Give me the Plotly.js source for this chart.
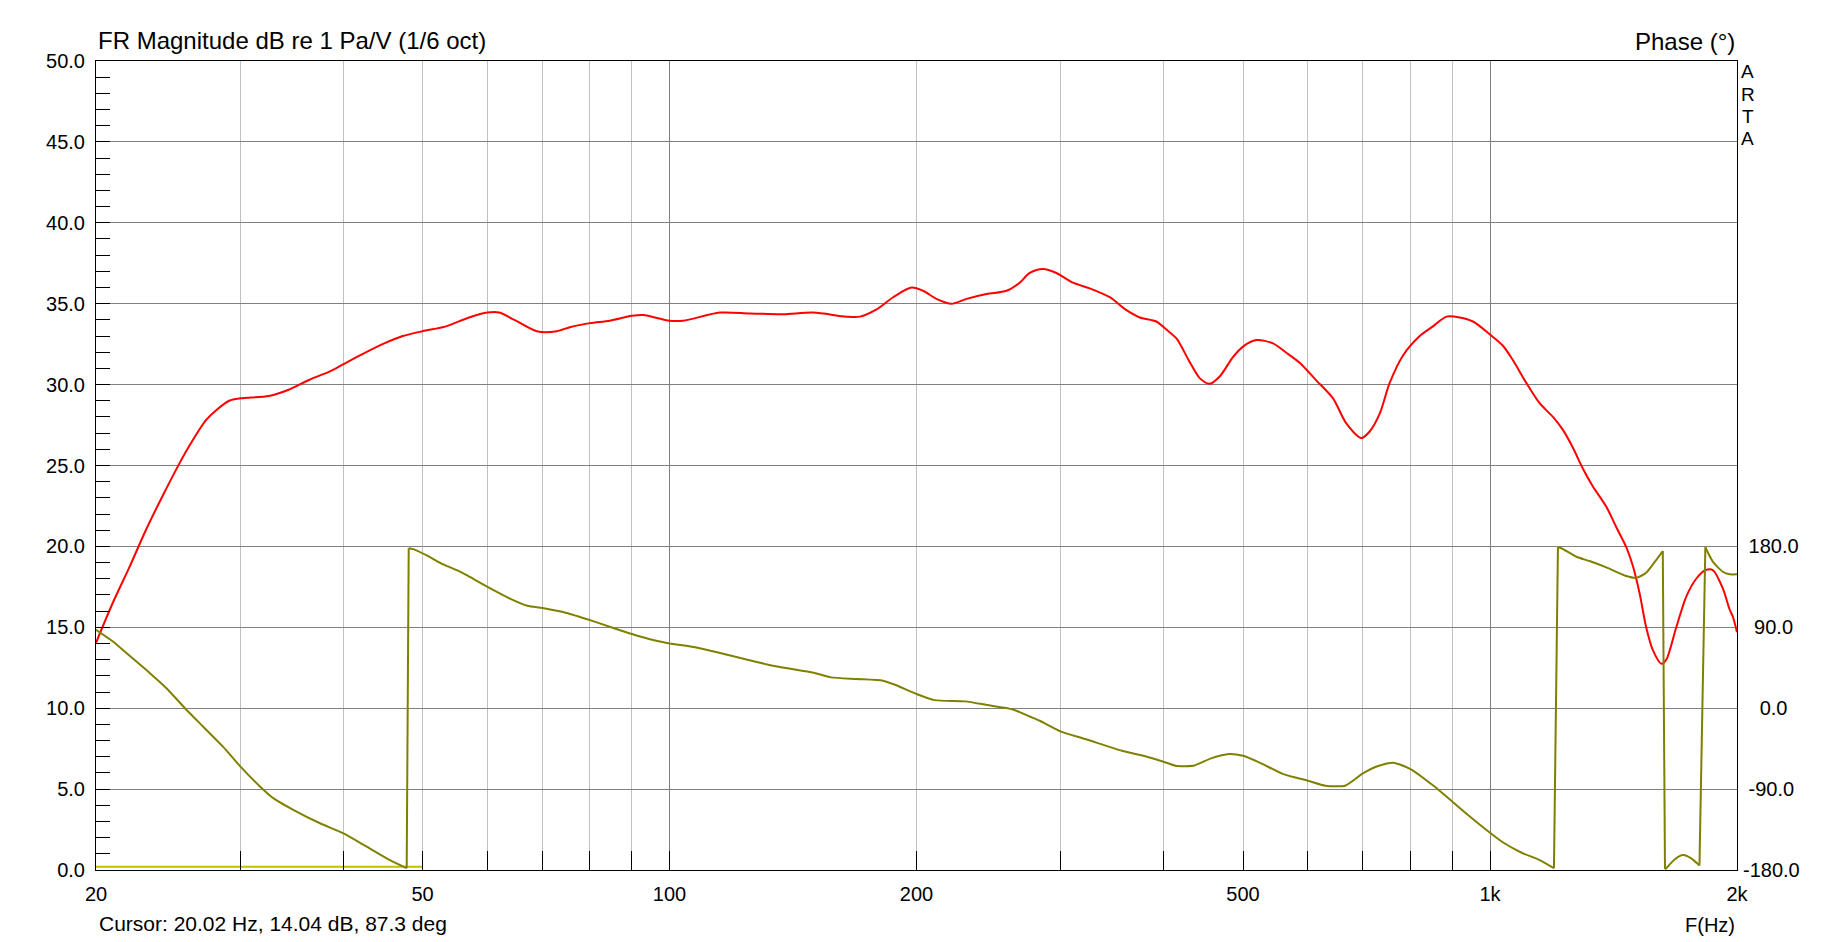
<!DOCTYPE html>
<html>
<head>
<meta charset="utf-8">
<script src="https://cdn.plot.ly/plotly-3.0.1.min.js"></script>
<style>
  html, body { margin: 0; padding: 0; background: #ffffff; }
  #chart { width: 1833px; height: 942px; }
</style>
</head>
<body>
<div id="chart"></div>
<script>
// ---- Magnitude (dB re 1 Pa/V, 1/6 oct) ----
const magFreqHz = [20.0, 20.96, 21.96, 23.0, 24.1, 25.26, 25.98, 27.23, 28.0, 29.07, 30.0, 32.5, 34.4, 36.4, 38.5, 40.0,
  42.3, 44.7, 47.3, 50.0, 53.4, 57.0, 60.0, 62.0, 64.7, 68.9, 72.9, 75.6, 80.0, 84.6, 90.0, 92.9, 100, 103.9,
  115.2, 125.3, 137.6, 149.6, 164.3, 170.6, 178.8, 187.3, 197.2, 203.7, 211.5, 220.6, 230.2, 243.4, 257.5,
  267.2, 274.8, 285.3, 296.2, 310.3, 325.2, 344, 360.5, 374.2, 392, 403.3, 414.8, 430.5, 442.8, 455.4, 468.3,
  486.1, 500, 519, 543.9, 564.7, 586.2, 614.4, 643.7, 668.2, 697, 713.4, 733.8, 754.6, 783.4, 821, 852,
  884.9, 918.4, 953.3, 1000, 1037, 1066.6, 1107.4, 1149.4, 1193.2, 1227, 1262, 1298, 1334.8, 1386, 1425,
  1465.8, 1493, 1521.6, 1550, 1579, 1617, 1640, 1686.6, 1734.6, 1783.8, 1825.8, 1868.8, 1922, 1959, 1977, 2000];
const magDb = [14.04, 16.5, 18.7, 21.0, 23.1, 25.1, 26.2, 27.8, 28.4, 29.0, 29.15, 29.3, 29.7, 30.3, 30.8, 31.25,
  31.9, 32.5, 33.0, 33.3, 33.6, 34.15, 34.45, 34.45, 34.0, 33.3, 33.3, 33.55, 33.8, 33.95, 34.25, 34.3, 33.95, 33.95,
  34.45, 34.4, 34.35, 34.45, 34.2, 34.2, 34.65, 35.4, 36.0, 35.8, 35.3, 35.0, 35.3, 35.6, 35.8,
  36.3, 36.9, 37.15, 36.9, 36.3, 35.95, 35.4, 34.6, 34.15, 33.9, 33.4, 32.85, 31.4, 30.4, 30.05, 30.5,
  31.7, 32.35, 32.75, 32.55, 31.97, 31.35, 30.25, 29.15, 27.6, 26.7, 27.1, 28.2, 30.1, 31.8, 33.0, 33.6,
  34.2, 34.15, 33.9, 33.1, 32.4, 31.5, 30.1, 28.85, 28.0, 27.2, 26.1, 24.8, 23.7, 22.45, 21.2,
  19.95, 18.8, 17.1, 15.0, 13.6, 12.75, 13.0, 15.0, 16.9, 18.0, 18.5, 18.54, 17.4, 16.1, 15.65, 14.7];

// ---- Phase (degrees) ----
const phaseFreqHz = [20.0, 20.99, 22.0, 23.27, 24.39, 25.67, 27.02, 28.58, 30.0, 31.68, 32.89, 34.79, 37.5, 40.0,
  42.75, 45.64, 47.83, 48.1, 48.72, 50.59, 53.0, 55.54, 56.6, 60, 63.9, 67.1, 70, 74.9, 80, 85.6, 90, 94.4,
  100, 106.5, 114.6, 124.8, 135.9, 149.8, 157.3, 169.1, 182, 188.7, 200, 210.5, 229.3, 243.7, 262.1, 275.2,
  282.7, 300, 321.9, 355.9, 381.7, 400, 413.6, 434.9, 457.2, 480.7, 500, 526.1, 558.7, 600, 630.1, 665.9,
  700, 732.3, 762.3, 800, 851.2, 900, 940.9, 1000, 1040, 1093, 1149.4, 1196.6, 1210, 1221.6, 1274, 1322,
  1386, 1465.8, 1507.6, 1550, 1594, 1624, 1634, 1640, 1680, 1718, 1759, 1792, 1800, 1830, 1868.8, 1922, 1959, 2000];
const phaseDeg = [87.3, 74, 58, 39, 22, 0, -20.6, -43, -65, -87, -100, -113, -128, -139,
  -154, -169, -178, 178, 177, 170, 160, 152, 148, 135, 122, 114, 111.4, 106, 98, 89, 82.5, 77,
  72, 68.4, 62, 53.6, 46, 39.5, 34.3, 32.5, 30.6, 25.8, 15.8, 9, 7.6, 3.5, -1.4, -9.5,
  -14, -26, -34.6, -47.4, -54, -59.5, -64, -64, -55.8, -51, -53, -61.3, -73, -80.7, -86.2, -86.2,
  -72.4, -64, -60.7, -67.7, -85.5, -104, -119, -138.5, -150, -160.8, -169, -178, 179, 178, 168.5, 163.7,
  156.7, 147, 145, 150.7, 164.8, 174.8, -179, -178, -168, -163.3, -167, -173.3, -175, 179, 163, 151.8, 149, 149];

// ---- Low-frequency marker band (yellow line near the floor) ----
const bandHz = [20, 50];
const bandDb = [0.2, 0.2];

// ---- Axis ticks ----
const xTickHz = [20, 50, 100, 200, 500, 1000, 2000];
const xTickText = ['20', '50', '100', '200', '500', '1k', '2k'];
const xMinorHz = [30, 40, 60, 70, 80, 90, 300, 400, 600, 700, 800, 900];
const xDecadeHz = [100, 1000];
const yTickDb = [0, 5, 10, 15, 20, 25, 30, 35, 40, 45, 50];
const phaseTickDeg = [-180, -90, 0, 90, 180];
const phaseTickText = ['-180.0', '-90.0', '0.0', '90.0', '180.0'];

const FONT = '"Liberation Sans", Arial, Helvetica, sans-serif';
const NB = '\u00a0';
// centre the right-hand labels under each other, as ARTA does
const emW = {'-': 0.333, '.': 0.278};
const em = s => s.split('').reduce((a, c) => a + (emW[c] !== undefined ? emW[c] : 0.556), 0);
const maxEm = Math.max(...phaseTickText.map(em));
const phaseTickCentered = phaseTickText.map(t => NB.repeat(Math.round((maxEm - em(t)) / 2 / 0.278)) + t);

// split the wrapped phase into smooth pieces plus the vertical wrap connectors
const phaseSegX = [], phaseSegY = [], wrapX = [], wrapY = [];
for (let i = 0; i < phaseFreqHz.length; i++) {
  phaseSegX.push(phaseFreqHz[i]); phaseSegY.push(phaseDeg[i]);
  if (i + 1 < phaseFreqHz.length && Math.abs(phaseDeg[i + 1] - phaseDeg[i]) > 180) {
    phaseSegX.push(null); phaseSegY.push(null);
    wrapX.push(phaseFreqHz[i], phaseFreqHz[i + 1], null);
    wrapY.push(phaseDeg[i], phaseDeg[i + 1], null);
  }
}

const xr = [Math.log10(20), Math.log10(2000)];

const traces = [
  {
    x: bandHz, y: bandDb, type: 'scatter', mode: 'lines',
    line: {color: '#c4c000', width: 2.2}, hoverinfo: 'skip', showlegend: false,
    xaxis: 'x', yaxis: 'y'
  },
  {
    x: magFreqHz, y: magDb, type: 'scatter', mode: 'lines', name: 'Magnitude',
    line: {color: '#ff0000', width: 2, shape: 'spline', smoothing: 0.8},
    showlegend: false, xaxis: 'x', yaxis: 'y'
  },
  {
    x: phaseSegX, y: phaseSegY, type: 'scatter', mode: 'lines', name: 'Phase',
    line: {color: '#808000', width: 2, shape: 'spline', smoothing: 0.6},
    connectgaps: false, showlegend: false, xaxis: 'x2', yaxis: 'y2'
  },
  {
    x: wrapX, y: wrapY, type: 'scatter', mode: 'lines', name: 'Phase wrap',
    line: {color: '#808000', width: 2},
    connectgaps: false, showlegend: false, hoverinfo: 'skip', xaxis: 'x2', yaxis: 'y2'
  }
];

const layout = {
  width: 1833, height: 942,
  margin: {l: 96, r: 96, t: 61, b: 72, pad: 0},
  paper_bgcolor: '#ffffff', plot_bgcolor: '#ffffff',
  font: {family: FONT, size: 20, color: '#000000'},
  showlegend: false,
  title: {
    text: 'FR Magnitude dB re 1 Pa/V (1/6 oct)',
    xref: 'container', yref: 'container',
    x: 98 / 1833, xanchor: 'left',
    y: 1 - 41 / 942, yanchor: 'middle',
    font: {family: FONT, size: 24, color: '#000000'}
  },
  xaxis: {
    type: 'log', range: xr, fixedrange: true,
    tickvals: xTickHz, ticktext: xTickText,
    ticks: 'inside', ticklen: 19, tickwidth: 1, tickcolor: '#000000',
    ticklabelstandoff: 6,
    showgrid: true, gridcolor: '#c0c0c0', gridwidth: 1,
    minor: {tickvals: xMinorHz, ticks: 'inside', ticklen: 19, tickwidth: 1, tickcolor: '#000000',
            showgrid: true, gridcolor: '#c0c0c0', gridwidth: 1},
    showline: true, linecolor: '#000000', linewidth: 1, mirror: true,
    zeroline: false, tickfont: {family: FONT, size: 20, color: '#000000'}
  },
  xaxis2: {
    type: 'log', range: xr, overlaying: 'x', fixedrange: true,
    tickvals: xDecadeHz, showticklabels: false, ticks: '',
    showgrid: true, gridcolor: '#808080', gridwidth: 1,
    showline: false, zeroline: false
  },
  yaxis: {
    range: [0, 50], fixedrange: true,
    tickvals: yTickDb, tickformat: '.1f',
    ticks: 'inside', ticklen: 14, tickwidth: 1, tickcolor: '#000000',
    ticklabelstandoff: 6,
    minor: {dtick: 1, ticks: 'inside', ticklen: 14, tickwidth: 1, tickcolor: '#000000', showgrid: false},
    showgrid: true, gridcolor: '#808080', gridwidth: 1,
    showline: true, linecolor: '#000000', linewidth: 1, mirror: true,
    zeroline: false, tickfont: {family: FONT, size: 20, color: '#000000'}
  },
  yaxis2: {
    range: [-180, 720], overlaying: 'y', side: 'right', fixedrange: true,
    tickvals: phaseTickDeg, ticktext: phaseTickCentered,
    ticks: '', showgrid: false, zeroline: false, showline: false,
    ticklabelstandoff: 5,
    tickfont: {family: FONT, size: 20, color: '#000000'}
  },
  annotations: [
    {text: 'Phase (°)', xref: 'paper', yref: 'paper', x: 1, y: (870 - 42) / 809,
     xanchor: 'right', yanchor: 'middle', showarrow: false,
     font: {family: FONT, size: 24, color: '#000000'}},
    {text: 'F(Hz)', xref: 'paper', yref: 'paper', x: 1, y: (870 - 925) / 809,
     xanchor: 'right', yanchor: 'middle', showarrow: false,
     font: {family: FONT, size: 20, color: '#000000'}},
    {text: 'Cursor: 20.02 Hz, 14.04 dB, 87.3 deg', xref: 'paper', yref: 'paper', x: 0.0006, y: (870 - 923) / 809,
     xanchor: 'left', yanchor: 'middle', showarrow: false,
     font: {family: FONT, size: 21, color: '#000000'}}
  ].concat(['A', 'R', 'T', 'A'].map((ch, i) => ({
    text: ch, xref: 'paper', yref: 'paper', x: (1748 - 96) / 1641, y: (870 - (71.5 + 22.5 * i)) / 809,
    xanchor: 'center', yanchor: 'middle', showarrow: false,
    font: {family: FONT, size: 19, color: '#000000'}
  })))
};

Plotly.newPlot('chart', traces, layout, {displayModeBar: false, staticPlot: true});
</script>
</body>
</html>
